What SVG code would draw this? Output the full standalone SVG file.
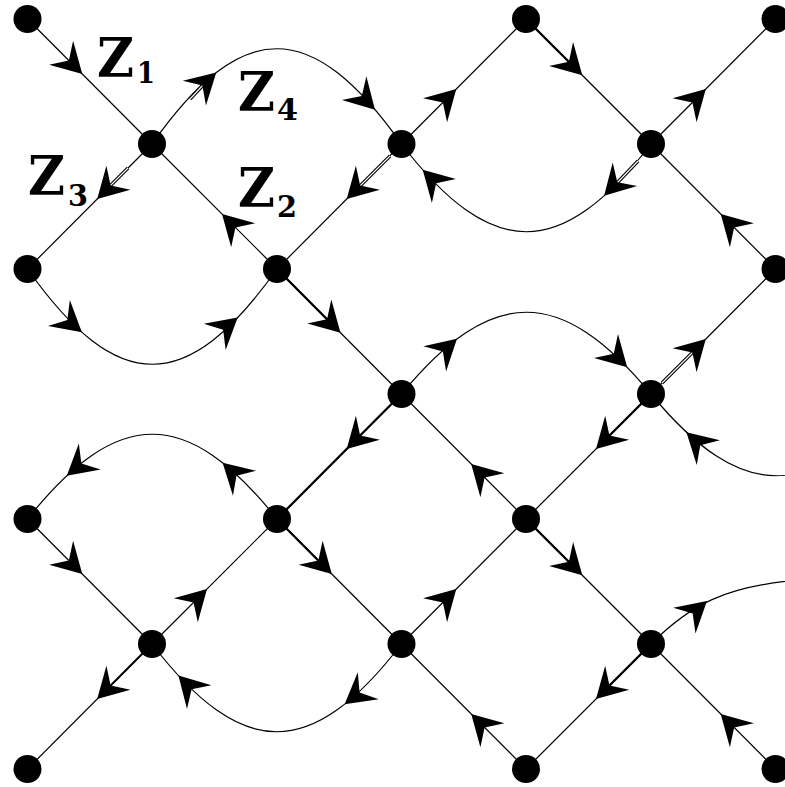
<svg xmlns="http://www.w3.org/2000/svg" xmlns:xlink="http://www.w3.org/1999/xlink" width="785" height="787" viewBox="0 0 785 787">
<style>
.ln{stroke:#000;stroke-width:1.2;fill:none}
.thk{stroke:#000;stroke-width:2.3;fill:none}
.med{stroke:#000;stroke-width:1.8;fill:none}
.dblo{stroke:#000;stroke-width:3.4;fill:none}
.dbli{stroke:#fff;stroke-width:1.1;fill:none}
.node{fill:#000}
.lbl{font-family:"DejaVu Serif","Liberation Serif",serif;font-weight:bold;fill:#000}
.big{font-size:54px}
.sub{font-size:30px}
</style>
<defs>
<path id="ah" d="M0,0 L-30,-17 L-19,0 L-30,17 Z" fill="#000"/>
</defs>
<rect width="785" height="787" fill="#fff"/>
<g id="connectors">
<!-- straight edges -->
<line class="ln" x1="27.5" y1="19" x2="152" y2="144"/>
<line class="ln" x1="152" y1="144" x2="27.5" y2="269"/>
<line class="ln" x1="277" y1="269" x2="152" y2="144"/>
<line class="ln" x1="401.5" y1="144" x2="277" y2="269"/>
<line class="ln" x1="401.5" y1="144" x2="526" y2="19"/>
<line class="ln" x1="526" y1="19" x2="651" y2="144"/>
<line class="ln" x1="651" y1="144" x2="775.5" y2="19"/>
<line class="ln" x1="775.5" y1="269" x2="651" y2="144"/>
<line class="ln" x1="277" y1="269" x2="401.5" y2="394"/>
<line class="thk" x1="401.5" y1="394" x2="277" y2="519"/>
<line class="ln" x1="651" y1="394" x2="775.5" y2="269"/>
<line class="ln" x1="651" y1="394" x2="526" y2="519"/>
<line class="ln" x1="526" y1="519" x2="401.5" y2="394"/>
<line class="ln" x1="27.5" y1="519" x2="152" y2="644"/>
<line class="ln" x1="152" y1="644" x2="277" y2="519"/>
<line class="ln" x1="277" y1="519" x2="401.5" y2="644"/>
<line class="ln" x1="152" y1="644" x2="27.5" y2="769"/>
<line class="ln" x1="401.5" y1="644" x2="526" y2="519"/>
<line class="ln" x1="526" y1="519" x2="651" y2="644"/>
<line class="ln" x1="651" y1="644" x2="526" y2="769"/>
<line class="ln" x1="526" y1="769" x2="401.5" y2="644"/>
<line class="ln" x1="775.5" y1="769" x2="651" y2="644"/>
<!-- heavier parts -->
<line class="thk" x1="526" y1="19" x2="570.3" y2="63.3"/>
<line class="thk" x1="277" y1="269" x2="328.5" y2="320.8"/>
<line class="thk" x1="651" y1="394" x2="608" y2="437"/>
<line class="thk" x1="277" y1="519" x2="319.8" y2="562"/>
<line class="thk" x1="526" y1="519" x2="570.3" y2="563.3"/>
<line class="thk" x1="651" y1="644" x2="608" y2="687"/>
<line class="med" x1="152" y1="644" x2="109.2" y2="687"/>
<!-- curved edges -->
<path class="ln" d="M152,144 C242,17 311.5,17 401.5,144"/>
<path class="ln" d="M27.5,269 C117.5,396 187,396 277,269"/>
<path class="ln" d="M651,144 C561,261 491.5,261 401.5,144"/>
<path class="ln" d="M401.5,394 C491.5,285 561,285 651,394"/>
<path class="ln" d="M277,519 C187,406 117.5,406 27.5,519"/>
<path class="ln" d="M401.5,644 C311.5,761 242,761 152,644"/>
<path class="ln" d="M900.5,394 C810.5,503 741,503 651,394"/>
<path class="ln" d="M651,644 C690,605 725,586 800,580"/>
<!-- doubled strokes -->
<g>
<line class="dblo" x1="128" y1="168" x2="110" y2="186"/>
<line class="dbli" x1="128" y1="168" x2="110" y2="186"/>
<line class="dblo" x1="390" y1="156" x2="359" y2="187"/>
<line class="dbli" x1="390" y1="156" x2="359" y2="187"/>
<line class="dblo" x1="638" y1="161" x2="617" y2="183"/>
<line class="dbli" x1="638" y1="161" x2="617" y2="183"/>
<line class="dblo" x1="662" y1="383" x2="694" y2="351"/>
<line class="dbli" x1="662" y1="383" x2="694" y2="351"/>
<line class="dblo" x1="190" y1="99" x2="204" y2="84"/>
<line class="dbli" x1="190" y1="99" x2="204" y2="84"/>
</g>
<!-- arrowheads on straight edges -->
<use xlink:href="#ah" transform="translate(82.3,74) rotate(45)"/>
<use xlink:href="#ah" transform="translate(97.2,199) rotate(135)"/>
<use xlink:href="#ah" transform="translate(222,214) rotate(-135)"/>
<use xlink:href="#ah" transform="translate(346.7,199) rotate(135)"/>
<use xlink:href="#ah" transform="translate(456.3,89) rotate(-45)"/>
<use xlink:href="#ah" transform="translate(582.3,75.3) rotate(45)"/>
<use xlink:href="#ah" transform="translate(705.8,89) rotate(-45)"/>
<use xlink:href="#ah" transform="translate(720.7,214) rotate(-135)"/>
<use xlink:href="#ah" transform="translate(340.5,332.8) rotate(45)"/>
<use xlink:href="#ah" transform="translate(346.7,449) rotate(135)"/>
<use xlink:href="#ah" transform="translate(705.8,339) rotate(-45)"/>
<use xlink:href="#ah" transform="translate(596,449) rotate(135)"/>
<use xlink:href="#ah" transform="translate(471.2,464) rotate(-135)"/>
<use xlink:href="#ah" transform="translate(82.3,574) rotate(45)"/>
<use xlink:href="#ah" transform="translate(207,589) rotate(-45)"/>
<use xlink:href="#ah" transform="translate(331.8,574) rotate(45)"/>
<use xlink:href="#ah" transform="translate(97.2,699) rotate(135)"/>
<use xlink:href="#ah" transform="translate(456.3,589) rotate(-45)"/>
<use xlink:href="#ah" transform="translate(582.3,575.3) rotate(45)"/>
<use xlink:href="#ah" transform="translate(596,699) rotate(135)"/>
<use xlink:href="#ah" transform="translate(471.2,714) rotate(-135)"/>
<use xlink:href="#ah" transform="translate(720.7,714) rotate(-135)"/>
<!-- arrowheads on curves -->
<use xlink:href="#ah" transform="translate(216.3,72.6) rotate(-43)"/>
<use xlink:href="#ah" transform="translate(375,109.7) rotate(46)"/>
<use xlink:href="#ah" transform="translate(81.9,332.2) rotate(40)"/>
<use xlink:href="#ah" transform="translate(237.7,317.6) rotate(-40)"/>
<use xlink:href="#ah" transform="translate(604.1,195.8) rotate(134)"/>
<use xlink:href="#ah" transform="translate(422.7,169.8) rotate(-135)"/>
<use xlink:href="#ah" transform="translate(457,338.8) rotate(-42)"/>
<use xlink:href="#ah" transform="translate(627.2,367.2) rotate(45)"/>
<use xlink:href="#ah" transform="translate(222.6,462.8) rotate(-137)"/>
<use xlink:href="#ah" transform="translate(66.8,475.8) rotate(140)"/>
<use xlink:href="#ah" transform="translate(344.6,704.2) rotate(142)"/>
<use xlink:href="#ah" transform="translate(178.4,675.6) rotate(-134)"/>
<use xlink:href="#ah" transform="translate(686.4,432.2) rotate(-137)"/>
<use xlink:href="#ah" transform="translate(707,601) rotate(-41)"/>
</g>
<g id="nodes">
<g id="n0_0"><circle class="node" cx="27.5" cy="19" r="14"/></g>
<g id="n4_0"><circle class="node" cx="526" cy="19" r="14"/></g>
<g id="n6_0"><circle class="node" cx="775.5" cy="19" r="14"/></g>
<g id="n1_1"><circle class="node" cx="152" cy="144" r="14"/></g>
<g id="n3_1"><circle class="node" cx="401.5" cy="144" r="14"/></g>
<g id="n5_1"><circle class="node" cx="651" cy="144" r="14"/></g>
<g id="n0_2"><circle class="node" cx="27.5" cy="269" r="14"/></g>
<g id="n2_2"><circle class="node" cx="277" cy="269" r="14"/></g>
<g id="n6_2"><circle class="node" cx="775.5" cy="269" r="14"/></g>
<g id="n3_3"><circle class="node" cx="401.5" cy="394" r="14"/></g>
<g id="n5_3"><circle class="node" cx="651" cy="394" r="14"/></g>
<g id="n0_4"><circle class="node" cx="27.5" cy="519" r="14"/></g>
<g id="n2_4"><circle class="node" cx="277" cy="519" r="14"/></g>
<g id="n4_4"><circle class="node" cx="526" cy="519" r="14"/></g>
<g id="n1_5"><circle class="node" cx="152" cy="644" r="14"/></g>
<g id="n3_5"><circle class="node" cx="401.5" cy="644" r="14"/></g>
<g id="n5_5"><circle class="node" cx="651" cy="644" r="14"/></g>
<g id="n0_6"><circle class="node" cx="27.5" cy="769" r="14"/></g>
<g id="n4_6"><circle class="node" cx="526" cy="769" r="14"/></g>
<g id="n6_6"><circle class="node" cx="775.5" cy="769" r="14"/></g>
</g>
<g id="labels" class="lbl">
<text class="big" x="97" y="77" textLength="37" lengthAdjust="spacingAndGlyphs">Z</text>
<text class="sub" x="137" y="83" textLength="18" lengthAdjust="spacingAndGlyphs">1</text>
<text class="big" x="238" y="207" textLength="37" lengthAdjust="spacingAndGlyphs">Z</text>
<text class="sub" x="277" y="217" textLength="20" lengthAdjust="spacingAndGlyphs">2</text>
<text class="big" x="28" y="195" textLength="37" lengthAdjust="spacingAndGlyphs">Z</text>
<text class="sub" x="68" y="206" textLength="20" lengthAdjust="spacingAndGlyphs">3</text>
<text class="big" x="238" y="111" textLength="37" lengthAdjust="spacingAndGlyphs">Z</text>
<text class="sub" x="277" y="120" textLength="21" lengthAdjust="spacingAndGlyphs">4</text>
</g>
</svg>
